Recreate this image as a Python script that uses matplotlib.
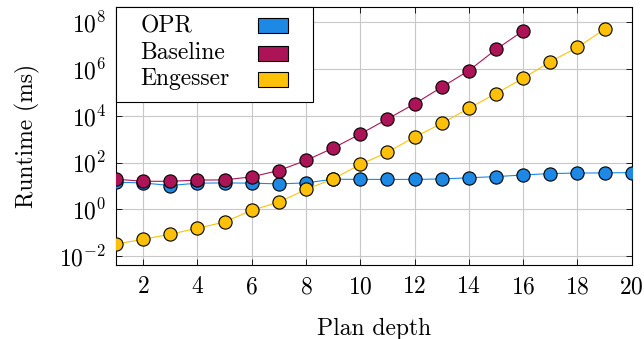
import matplotlib
matplotlib.use('Agg')
import matplotlib.pyplot as plt
from matplotlib.patches import Rectangle
import numpy as np

plt.rcParams['font.family'] = ['cmr10']
plt.rcParams['mathtext.fontset'] = 'cm'
plt.rcParams['axes.formatter.use_mathtext'] = True
plt.rcParams['font.size'] = 17

depth = list(range(1, 21))
# log10 of runtime in ms
opr_log = [1.16, 1.13, 1.02, 1.12, 1.13, 1.12, 1.09, 1.13, 1.29, 1.28,
           1.28, 1.28, 1.30, 1.35, 1.40, 1.47, 1.53, 1.55, 1.56, 1.57]
baseline_log = [1.29, 1.20, 1.20, 1.25, 1.26, 1.39, 1.66, 2.09, 2.62, 3.22,
                3.86, 4.51, 5.22, 5.93, 6.83, 7.63]
engesser_log = [-1.48, -1.28, -1.06, -0.81, -0.54, -0.04, 0.31, 0.85, 1.30, 1.92,
                2.44, 3.09, 3.67, 4.32, 4.95, 5.60, 6.31, 6.92, 7.70]

names = ['OPR', 'Baseline', 'Engesser']
colors = ['#1e88e5', '#ad1457', '#ffc107']
series = [opr_log, baseline_log, engesser_log]

fig = plt.figure(figsize=(6.44, 3.39), dpi=100)
ax = fig.add_axes([0.180, 0.218, 0.801, 0.761])

for vals, c in zip(series, colors):
    ax.plot(depth[:len(vals)], 10 ** np.array(vals), color=c, lw=0.8,
            marker='o', ms=9.5, mfc=c, mec='black', mew=0.8, zorder=3)

ax.set_yscale('log')
ax.set_xlim(1, 20)
ax.set_ylim(10 ** -2.38, 10 ** 8.64)
ax.set_xticks(range(2, 21, 2))
ax.set_yticks([1e-2, 1e0, 1e2, 1e4, 1e6, 1e8])
ax.yaxis.set_minor_locator(matplotlib.ticker.NullLocator())
ax.grid(True, color='#c8c8c8', lw=0.8)
ax.set_axisbelow(True)
ax.tick_params(direction='in', top=True, right=True, length=4, width=0.6)
ax.tick_params(axis='x', pad=8)
ax.tick_params(axis='y', pad=7)
for s in ax.spines.values():
    s.set_linewidth(0.8)

ax.set_xlabel('Plan depth', labelpad=14)
ax.set_ylabel('Runtime (ms)', labelpad=14)

# legend box: labels on the left, colour swatches on the right
ax.add_patch(Rectangle((0, 1 - 0.368), 0.382, 0.368, transform=ax.transAxes,
                       facecolor='white', edgecolor='black', lw=0.8, zorder=5,
                       clip_on=False))
row_y = [0.927, 0.822, 0.721]
for name, c, yy in zip(names, colors, row_y):
    ax.text(0.047, yy, name, transform=ax.transAxes, ha='left', va='center',
            fontsize=17, zorder=6)
    ax.add_patch(Rectangle((0.275, yy - 0.029), 0.058, 0.058, transform=ax.transAxes,
                           facecolor=c, edgecolor='black', lw=0.8, zorder=6))

fig.savefig('out.png', dpi=100)
